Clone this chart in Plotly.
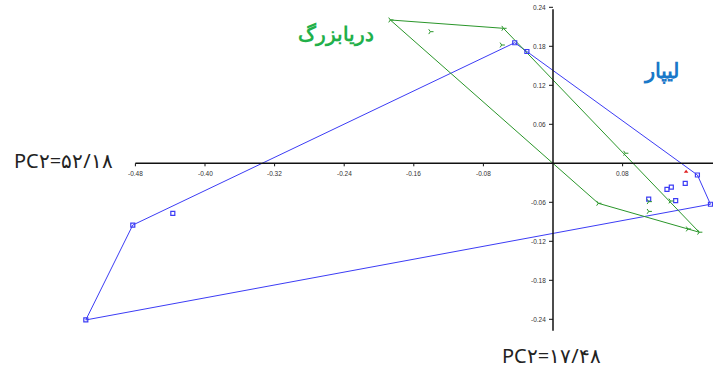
import plotly.graph_objects as go

# PCA scores: Lipar group
lipar_x = [-0.537, -0.483, -0.437, -0.044, -0.030, 0.110, 0.131, 0.136, 0.141, 0.152, 0.166, 0.181]
lipar_y = [-0.241, -0.095, -0.077, 0.1855, 0.172, -0.055, -0.040, -0.0365, -0.0575, -0.031, -0.018, -0.063]
lipar_hull = [0, 1, 3, 4, 10, 11, 0]

# PCA scores: Daryabozorg group
darya_x = [-0.187, -0.141, -0.057, -0.059, 0.083, 0.110, 0.110, 0.135, 0.155, 0.168, 0.052]
darya_y = [0.2205, 0.2025, 0.2077, 0.182, 0.0155, -0.059, -0.074, -0.058, -0.101, -0.106, -0.0615]
darya_hull = [0, 2, 9, 10, 0]

# single outlying sample
other_x = [0.153]
other_y = [-0.013]

x_ticks = [-0.48, -0.40, -0.32, -0.24, -0.16, -0.08, 0.08]
y_ticks = [0.24, 0.18, 0.12, 0.06, -0.06, -0.12, -0.18, -0.24]

x_axis_span = [-0.48, 0.19]
y_axis_span = [0.237, -0.2575]

label_pc_x = "PC۲=۵۲/۱۸"
label_pc_y = "PC۲=۱۷/۴۸"
label_darya = "دریابزرگ"
label_lipar = "لیپار"

BLUE = "#3c3cf5"
GREEN = "#2a962a"

fig = go.Figure()

fig.add_trace(go.Scatter(
    x=[lipar_x[i] for i in lipar_hull], y=[lipar_y[i] for i in lipar_hull],
    mode="lines", line=dict(color=BLUE, width=1), hoverinfo="skip"))
fig.add_trace(go.Scatter(
    x=[darya_x[i] for i in darya_hull], y=[darya_y[i] for i in darya_hull],
    mode="lines", line=dict(color=GREEN, width=1), hoverinfo="skip"))

fig.add_trace(go.Scatter(
    x=lipar_x, y=lipar_y, mode="markers",
    marker=dict(symbol="square-open", size=4, color=BLUE, line=dict(width=1.2))))
fig.add_trace(go.Scatter(
    x=darya_x, y=darya_y, mode="markers",
    marker=dict(symbol="y-right", size=4, color=GREEN, line=dict(width=1, color=GREEN))))
fig.add_trace(go.Scatter(
    x=other_x, y=other_y, mode="markers",
    marker=dict(symbol="triangle-up", size=4, color="#e02020")))

shapes = [
    dict(type="line", xref="x", yref="y", x0=x_axis_span[0], x1=x_axis_span[1], y0=0, y1=0,
         line=dict(color="#111", width=1.5)),
    dict(type="line", xref="x", yref="y", x0=0, x1=0, y0=y_axis_span[0], y1=y_axis_span[1],
         line=dict(color="#111", width=1.5)),
]
annotations = []
for t in x_ticks:
    shapes.append(dict(type="line", xref="x", yref="y", ysizemode="pixel", yanchor=0,
                       x0=t, x1=t, y0=0, y1=-3, line=dict(color="#111", width=1)))
    annotations.append(dict(x=t, y=0, xref="x", yref="y", text=f"{t:.2f}", showarrow=False,
                            yshift=-10, font=dict(size=6.5, color="#333", family="Liberation Sans")))
for t in y_ticks:
    shapes.append(dict(type="line", xref="x", yref="y", xsizemode="pixel", xanchor=0,
                       x0=-4, x1=0, y0=t, y1=t, line=dict(color="#111", width=1)))
    annotations.append(dict(x=0, y=t, xref="x", yref="y", text=f"{t:.2f}", showarrow=False,
                            xanchor="right", xshift=-5,
                            font=dict(size=6.5, color="#333", family="Liberation Sans")))

annotations += [
    dict(x=-0.563, y=0.004, xref="x", yref="y", text=label_pc_x, showarrow=False,
         xanchor="center", font=dict(size=20, color="#222", family="Noto Sans")),
    dict(x=-0.002, y=-0.295, xref="x", yref="y", text=label_pc_y, showarrow=False,
         xanchor="center", font=dict(size=20, color="#222", family="Noto Sans")),
    dict(x=-0.25, y=0.2, xref="x", yref="y", text=f"<b>{label_darya}</b>", showarrow=False,
         font=dict(size=20, color="#22b04a", family="Noto Sans")),
    dict(x=0.124, y=0.1435, xref="x", yref="y", text=f"<b>{label_lipar}</b>", showarrow=False,
         font=dict(size=21, color="#1a78c8", family="Noto Sans")),
]

fig.update_layout(
    width=713, height=369, margin=dict(l=0, r=0, t=0, b=0),
    paper_bgcolor="white", plot_bgcolor="white", showlegend=False,
    xaxis=dict(range=[-553 / 870, 160 / 870], visible=False, fixedrange=True),
    yaxis=dict(range=[(163.3 - 369) / 650, 163.3 / 650], visible=False, fixedrange=True),
    shapes=shapes, annotations=annotations,
)

fig.write_html("out.html")
